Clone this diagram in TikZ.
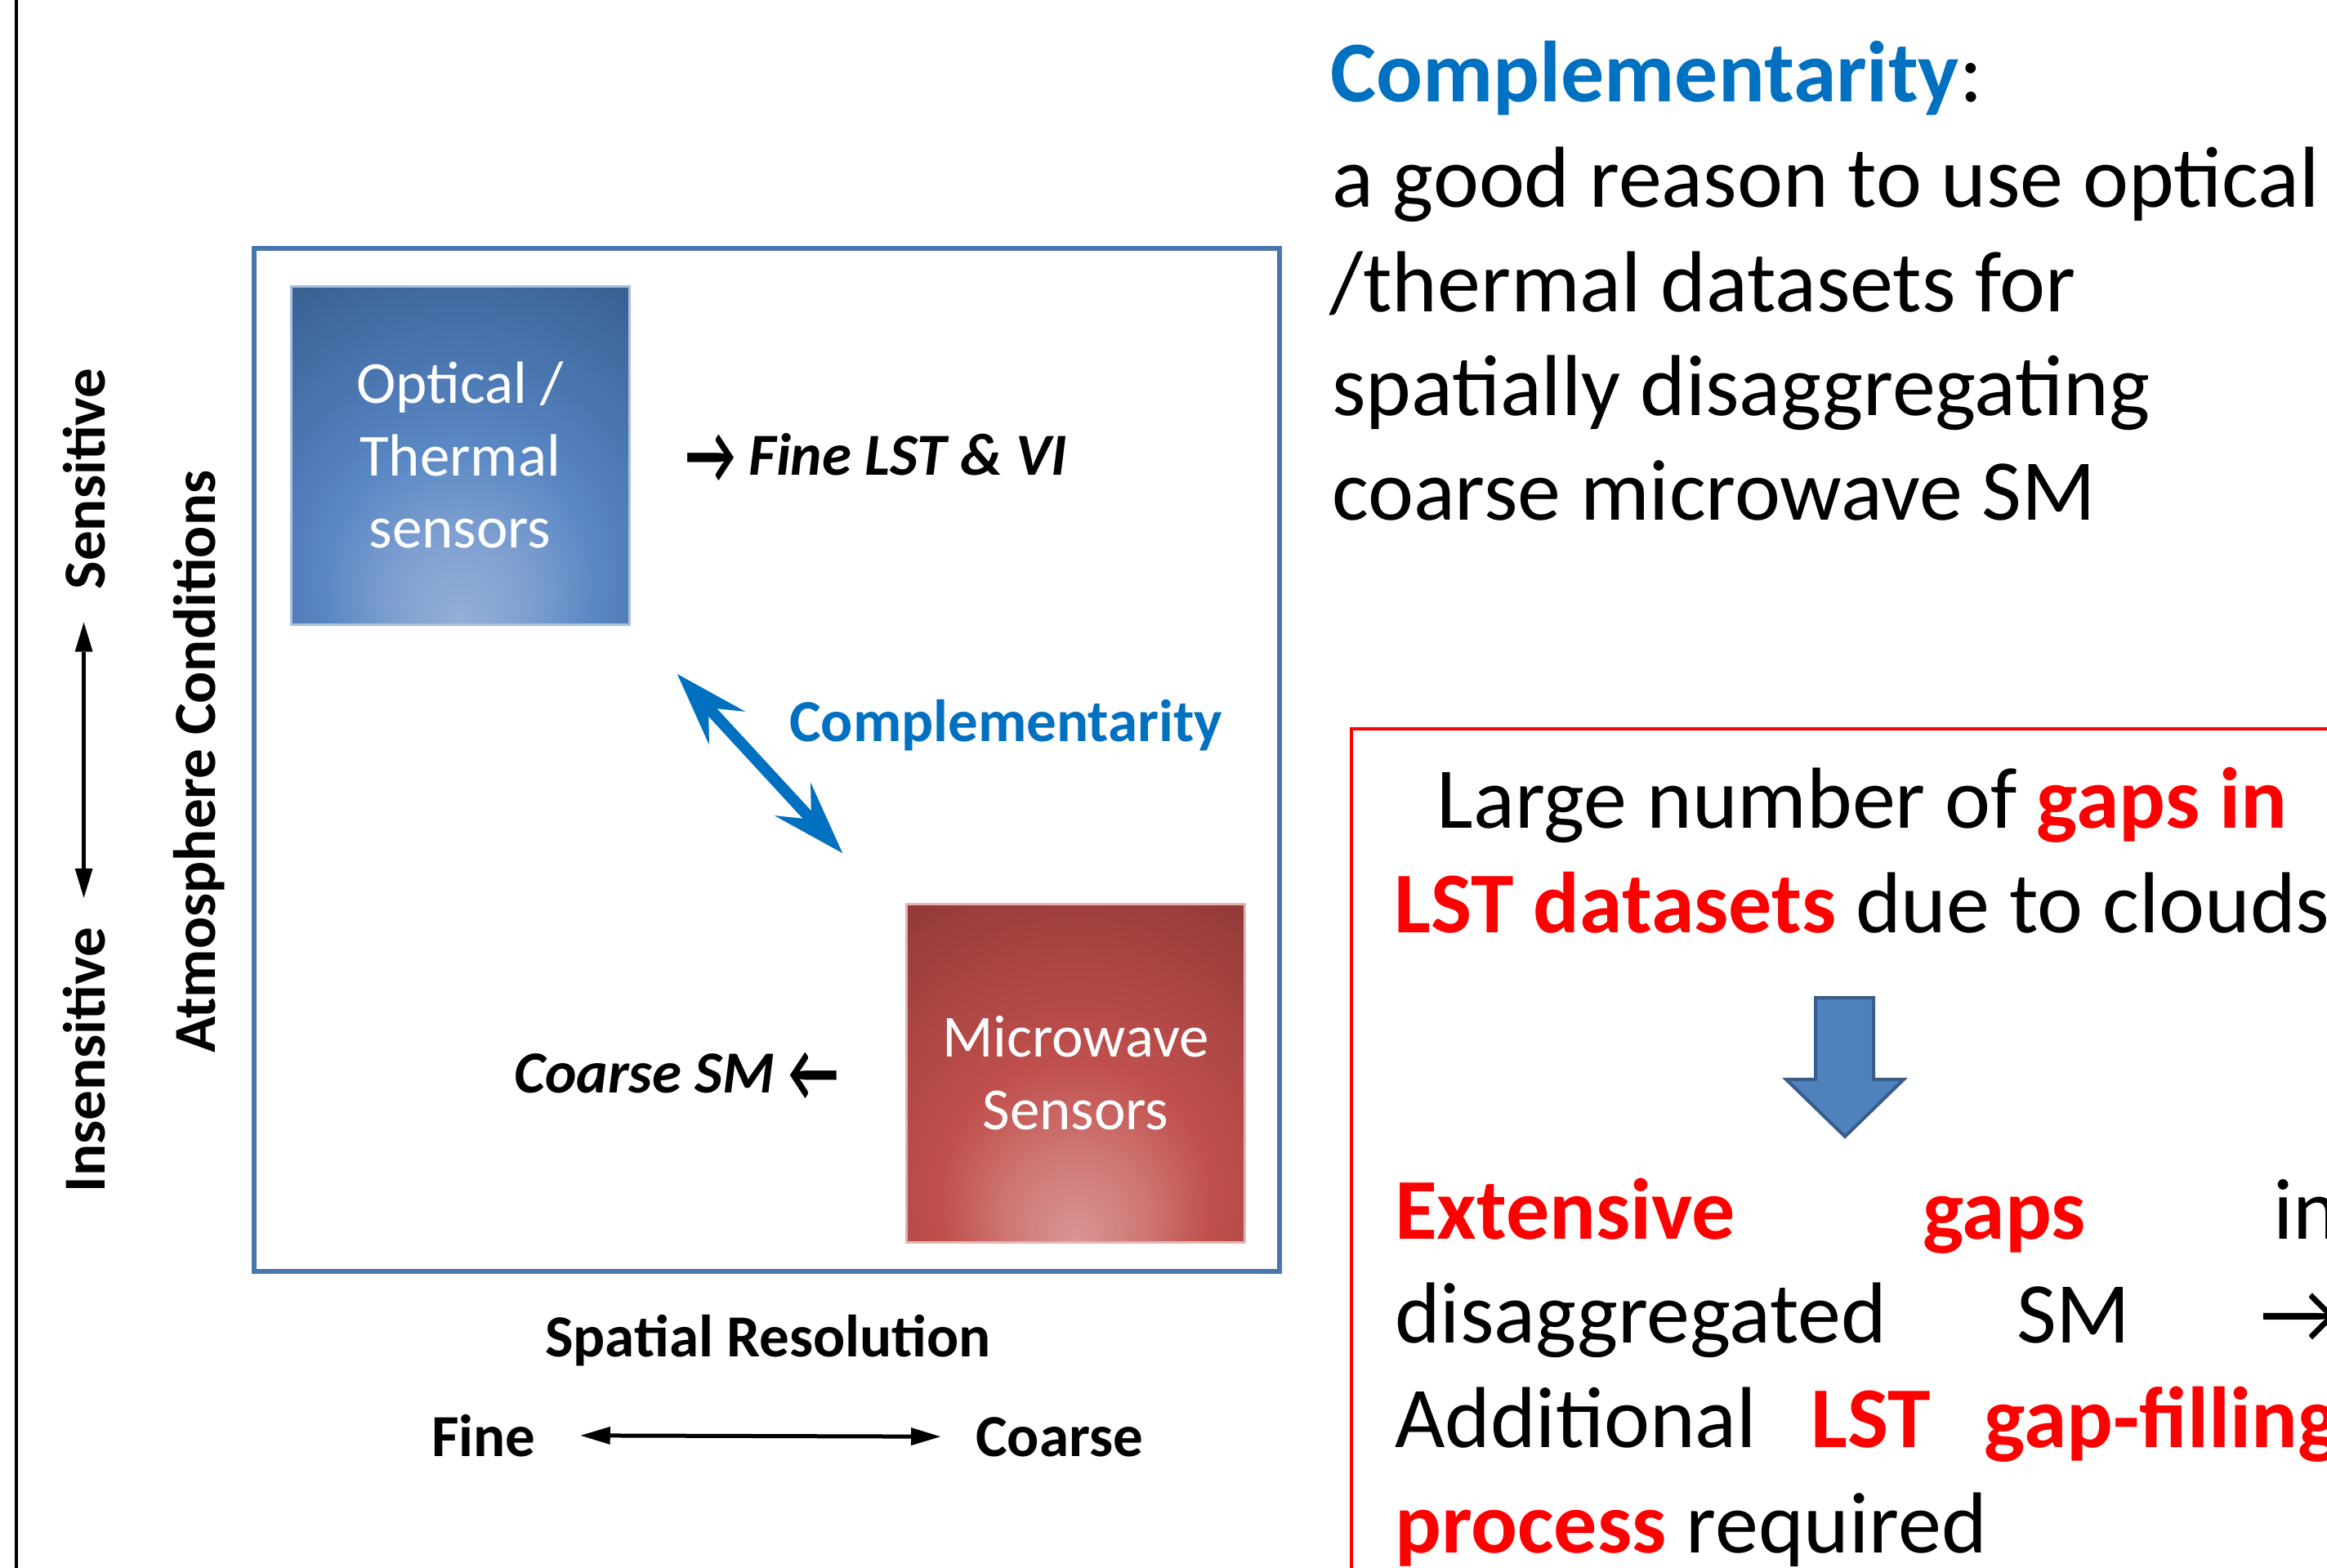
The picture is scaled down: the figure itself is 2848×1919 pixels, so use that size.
\documentclass[tikz,border=0pt]{standalone}
\usepackage{fontspec}
\usepackage{graphicx}
\setmainfont{Carlito}
\usetikzlibrary{arrows.meta}
\newcommand{\tallarrow}[1]{\raisebox{-10pt}{\scalebox{0.92}[1.4]{\upshape #1}}}
\definecolor{cblue}{HTML}{0070C0}
\definecolor{frameblue}{HTML}{4A76B0}
\definecolor{cred}{HTML}{FF0000}
\definecolor{arrowfill}{HTML}{4F81BD}
\definecolor{arrowdraw}{HTML}{385D8A}
\definecolor{boxblueline}{HTML}{A9C0DF}
\definecolor{boxredline}{HTML}{E3B3B2}
\definecolor{bA}{HTML}{95AFD7}
\definecolor{bB}{HTML}{7FA0D0}
\definecolor{bC}{HTML}{5A88C4}
\definecolor{bD}{HTML}{4A76B0}
\definecolor{bE}{HTML}{3C6396}
\definecolor{bF}{HTML}{2F4E7B}
\definecolor{rA}{HTML}{D99694}
\definecolor{rB}{HTML}{CF7875}
\definecolor{rC}{HTML}{C0504D}
\definecolor{rD}{HTML}{AE4745}
\definecolor{rE}{HTML}{963B39}
\definecolor{rF}{HTML}{7B2C2C}
\pgfdeclareradialshading{blueglow}{\pgfpoint{0bp}{-25bp}}{color(0bp)=(bA); color(10bp)=(bB); color(20bp)=(bC); color(30bp)=(bD); color(42bp)=(bE); color(56bp)=(bF); color(80bp)=(bF)}
\pgfdeclareradialshading{redglow}{\pgfpoint{0bp}{-25bp}}{color(0bp)=(rA); color(10bp)=(rB); color(20bp)=(rC); color(30bp)=(rD); color(42bp)=(rE); color(56bp)=(rF); color(80bp)=(rF)}
\tikzset{
  lbl/.style={inner sep=0pt, font=\fontsize{73}{88.5}\selectfont\bfseries},
  big/.style={inner sep=0pt, font=\fontsize{106}{128}\selectfont},
  sensorbox/.style={minimum width=414pt, minimum height=414pt, inner sep=0pt,
    line width=3pt, text=white, align=center, font=\fontsize{73}{88.5}\selectfont},
  axisarrow/.style={line width=5pt,
    {Triangle[length=36pt,width=22pt,line width=0pt]}-{Triangle[length=36pt,width=22pt,line width=0pt]}},
  comparrow/.style={line width=14pt,
    {Stealth[length=90pt,width=60pt,inset=34pt,line width=0pt]}-{Stealth[length=90pt,width=60pt,inset=34pt,line width=0pt]}},
}
\begin{document}
\begin{tikzpicture}[x=1pt,y=-1pt]
\useasboundingbox (0,0) rectangle (2848,1919);
\clip (0,0) rectangle (2848,1919);
\fill[white] (0,0) rectangle (2848,1919);

% left rule
\draw[line width=4pt] (20,0) -- (20,1919);

% frame
\draw[frameblue, line width=6pt] (311,304) rectangle (1566,1556);

% sensor boxes
\node[sensorbox, shading=blueglow, shade, draw=boxblueline] (opt) at (563,557) {Optical /\\Thermal\\sensors};
\node[sensorbox, shading=redglow, shade, draw=boxredline] (mw) at (1316.5,1313) {Microwave\\Sensors};

% labels inside frame
\node[lbl, anchor=base west] (finelst) at (839,581) {\tallarrow{→} \itshape Fine LST \& VI};
\node[lbl, anchor=base west] (coarsesm) at (629,1337) {\itshape Coarse SM \tallarrow{←}};
\node[lbl, anchor=base west, text=cblue] (comp) at (966,907) {Complementarity};

% complementarity arrow
\coordinate (cA) at (829,825);
\coordinate (cB) at (1031,1044);
\draw[comparrow, black, opacity=0.22, xshift=6pt, yshift=-7pt] (cA) -- (cB);
\draw[comparrow, cblue] (cA) -- (cB);

% axis labels
\node[lbl, rotate=90, anchor=base] (sens) at (128,586) {Sensitive};
\node[lbl, rotate=90, anchor=base] (insens) at (128,1297) {Insensitive};
\node[lbl, rotate=90, anchor=base] (atm) at (263,932) {Atmosphere Conditions};
\draw[axisarrow, shorten <=40pt, shorten >=36pt] (sens.west) -- (insens.east);

\node[lbl, anchor=base] (spatres) at (940,1660) {Spatial Resolution};
\node[lbl, anchor=base west] (fine) at (528,1782) {Fine};
\node[lbl, anchor=base west] (coarse) at (1194,1782) {Coarse};
\draw[axisarrow, shorten <=55pt, shorten >=43pt] (fine.east) -- (coarse.west);

% right text
\node[big, anchor=base west] (t0) at (1628,124) {\textcolor{cblue}{\bfseries Complementarity}:};
\node[big, anchor=base west] (t1) at (1630,253) {a good reason to use optical};
\node[big, anchor=base west] (t2) at (1627,381) {/thermal datasets for};
\node[big, anchor=base west] (t3) at (1630,508) {spatially disaggregating};
\node[big, anchor=base west] (t4) at (1630,636) {coarse microwave SM};

% red box
\draw[cred, line width=4.5pt] (1654,892) rectangle (2950,2050);
\node[big, anchor=base] (r1) at (2279,1013) {Large number of \textcolor{cred}{\bfseries gaps in}};
\node[big, anchor=base] (r2) at (2279,1141) {\textcolor{cred}{\bfseries LST datasets} due to clouds};

\draw[arrowdraw, fill=arrowfill, line width=4pt, line join=miter]
  (2222,1221) -- (2293,1221) -- (2293,1321) -- (2330,1321) -- (2258,1391)
  -- (2186,1321) -- (2222,1321) -- cycle;

\node[big, anchor=base west] (j1) at (1707,1516) {\makebox[1155pt][s]{\textcolor{cred}{\bfseries Extensive} \textcolor{cred}{\bfseries gaps} in}};
\node[big, anchor=base west] (j2) at (1707,1643) {\makebox[1155pt][s]{disaggregated SM →}};
\node[big, anchor=base west] (j3) at (1707,1771) {\makebox[1155pt][s]{Additional \textcolor{cred}{\bfseries LST} \textcolor{cred}{\bfseries gap-filling}}};
\node[big, anchor=base west] (j4) at (1707,1900) {\textcolor{cred}{\bfseries process} required};
\end{tikzpicture}
\end{document}
